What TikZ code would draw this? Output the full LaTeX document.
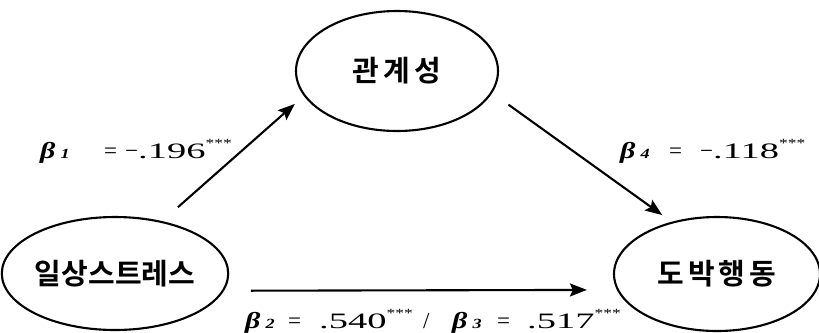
\documentclass[tikz,border=0pt]{standalone}
\usepackage{fontspec}
\usetikzlibrary{arrows.meta,shapes.geometric}
\setmainfont{Liberation Serif}
\newfontfamily\numf{Liberation Serif}[FakeStretch=1.75]
\newfontfamily\betf{Liberation Serif}[FakeStretch=1.3]
\newfontfamily\starf{Liberation Serif}[FakeStretch=1.4]
\newfontfamily\kr{Noto Sans CJK KR}[BoldFont={Noto Sans CJK KR Bold}]
\newcommand\mybeta[1]{{\betf\fontsize{23bp}{23bp}\selectfont\bfseries\itshape β}\hspace{5bp}{\betf\fontsize{14bp}{14bp}\selectfont\bfseries\itshape #1}}
\newcommand\myval[1]{{\numf\fontsize{22bp}{22bp}\selectfont #1}}
\newcommand\mystars{\raisebox{11bp}{\starf\fontsize{12.5bp}{12.5bp}\selectfont ***}}
\begin{document}
\begin{tikzpicture}[x=1bp,y=-1bp,
  ell/.style={draw, ellipse, line width=2.1bp, inner sep=0pt,
    font=\kr\bfseries\fontsize{29bp}{32bp}\selectfont},
  arr/.style={line width=2.1bp, -{Stealth[length=17bp,width=13bp,inset=3bp]}},
  lbl/.style={anchor=base west, inner sep=0pt, font=\fontsize{23bp}{23bp}\selectfont}]
\useasboundingbox (0,0) rectangle (819,332);
\fill[white] (0,0) rectangle (819,332);
\node[ell, minimum width=202bp, minimum height=120bp] (T) at (397,71) {관\hspace{4bp}계\hspace{4bp}성};
\node[ell, minimum width=220bp, minimum height=113bp] (L) at (115,273.5) {일상스트레스};
\node[ell, minimum width=206bp, minimum height=114bp] (R) at (717,274) {도\hspace{4bp}박\hspace{4bp}행\hspace{4bp}동};
\draw[arr, shorten <=21bp, shorten >=12bp] (L.48) -- (T.195);
\draw[arr, shorten <=20bp, shorten >=11.5bp] (T.347) -- (R.131);
\draw[arr, shorten <=27bp, shorten >=30bp] (L.351) -- (R.189);
% label 1
\node[lbl] (b1) at (40,158) {\mybeta{1}};
\node[lbl] (e1) at (104,158) {=};
\node[lbl] (v1) at (125,158) {−\myval{.196}\mystars};
% label 4
\node[lbl] (b4) at (620,158) {\mybeta{4}};
\node[lbl] (e4) at (669,158) {=};
\node[lbl] (v4) at (700,158) {−\myval{.118}\mystars};
% label 2 / 3
\node[lbl] (b2) at (245,328) {\mybeta{2}};
\node[lbl] (e2) at (288,328) {=};
\node[lbl] (v2) at (319,328) {\myval{.540}\mystars};
\node[lbl] (sl) at (423,328) {/};
\node[lbl] (b3) at (452,328) {\mybeta{3}};
\node[lbl] (e3) at (497,328) {=};
\node[lbl] (v3) at (527,328) {\myval{.517}\mystars};
\end{tikzpicture}
\end{document}
